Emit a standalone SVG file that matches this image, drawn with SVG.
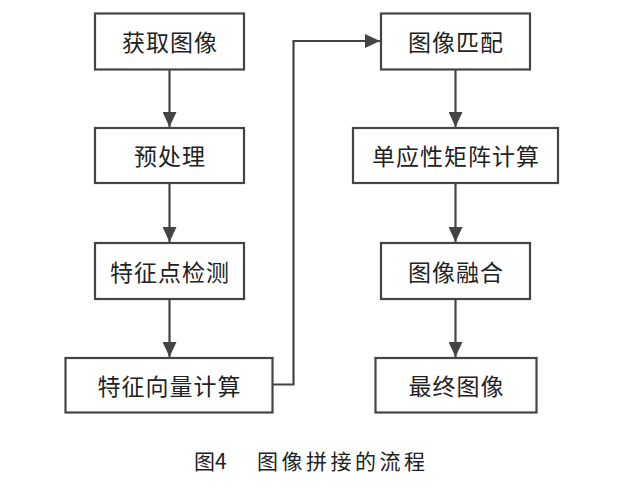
<svg xmlns="http://www.w3.org/2000/svg" width="619" height="489" viewBox="0 0 619 489">
<defs>
<style>
.box{fill:#fff;stroke:#444;stroke-width:2.2}
.lbl{font-family:"Noto Sans CJK SC","Liberation Serif",sans-serif;font-size:23px;fill:#222;text-anchor:middle;dominant-baseline:central;letter-spacing:1px}
.con{fill:none;stroke:#444;stroke-width:2.2}
.cap{font-family:"Noto Sans CJK SC","Liberation Serif",sans-serif;font-size:21px;fill:#222}
</style>
<marker id="ah" viewBox="0 0 15 14" refX="15" refY="7" markerWidth="15" markerHeight="14" markerUnits="userSpaceOnUse" orient="auto">
<path d="M0,0 L15,7 L0,14 Z" fill="#444"/>
</marker>
</defs>
<rect width="619" height="489" fill="#fff"/>
<g id="connectors">
<line class="con" x1="169.5" y1="69" x2="169.5" y2="127" marker-end="url(#ah)"/>
<line class="con" x1="169.5" y1="183" x2="169.5" y2="242" marker-end="url(#ah)"/>
<line class="con" x1="169.5" y1="299" x2="169.5" y2="357" marker-end="url(#ah)"/>
<polyline class="con" points="273,384.5 293.5,384.5 293.5,41 380,41" marker-end="url(#ah)"/>
<line class="con" x1="455.5" y1="69" x2="455.5" y2="127" marker-end="url(#ah)"/>
<line class="con" x1="455.5" y1="183" x2="455.5" y2="242" marker-end="url(#ah)"/>
<line class="con" x1="455.5" y1="299" x2="455.5" y2="357" marker-end="url(#ah)"/>
</g>
<g id="n1"><rect class="box" x="95" y="13.5" width="149" height="56"/><text class="lbl" x="170" y="41">获取图像</text></g>
<g id="n2"><rect class="box" x="95" y="128" width="149" height="55"/><text class="lbl" x="170" y="155">预处理</text></g>
<g id="n3"><rect class="box" x="95" y="243" width="149" height="56"/><text class="lbl" x="170" y="270.5">特征点检测</text></g>
<g id="n4"><rect class="box" x="65.5" y="358" width="207" height="54.5"/><text class="lbl" x="169.5" y="384.5">特征向量计算</text></g>
<g id="n5"><rect class="box" x="381" y="13.5" width="149" height="56"/><text class="lbl" x="456" y="41">图像匹配</text></g>
<g id="n6"><rect class="box" x="353" y="128" width="205" height="55"/><text class="lbl" x="456" y="155">单应性矩阵计算</text></g>
<g id="n7"><rect class="box" x="381" y="243" width="149" height="56"/><text class="lbl" x="456" y="270.5">图像融合</text></g>
<g id="n8"><rect class="box" x="375.5" y="358" width="161" height="54.5"/><text class="lbl" x="456.5" y="384.5">最终图像</text></g>
<g id="caption">
<text class="cap" x="194" y="469">图4</text>
<text class="cap" x="257" y="469" letter-spacing="3.5">图像拼接的流程</text>
</g>
</svg>
